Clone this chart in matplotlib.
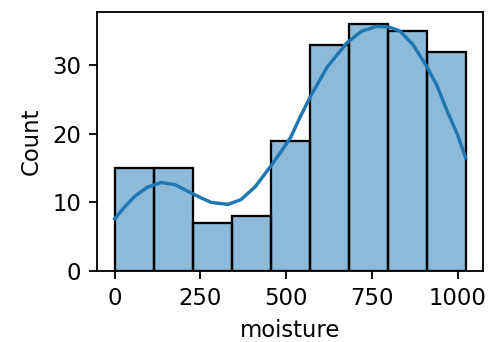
import numpy as np
from matplotlib import pyplot as plt

# histogram of moisture readings
bin_edges = np.linspace(0, 1023, 10)
counts = [15, 15, 7, 8, 19, 33, 36, 35, 32]

# kde curve (in count units)
kde_x = [0, 30, 59, 95, 136, 175, 214, 250, 281, 330, 368, 410, 455, 485, 513,
         540, 571, 620, 677, 720, 764, 800, 832, 870, 909, 940, 967, 1000, 1023]
kde_y = [7.6, 9.4, 10.9, 12.2, 12.9, 12.6, 11.6, 10.7, 10.0, 9.7, 10.4, 12.3, 15.3, 17.4, 19.5,
         22.4, 25.5, 29.8, 33.3, 35.0, 35.7, 35.6, 35.0, 33.0, 29.9, 27.0, 23.6, 19.8, 16.5]

dpi = 164
plt.figure(figsize=(496 / dpi, 342 / dpi), dpi=dpi)
ax = plt.axes([0.196, 0.208, 0.778, 0.757])

widths = np.diff(bin_edges)
ax.bar(bin_edges[:-1], counts, width=widths, align='edge',
       color='#1f77b4', alpha=0.5, edgecolor='none')
ax.bar(bin_edges[:-1], counts, width=widths, align='edge',
       fill=False, edgecolor='black', linewidth=1.0)
ax.plot(kde_x, kde_y, color='#1f77b4', linewidth=1.5)

ax.set_xlim(-51, 1074)
ax.set_ylim(0, 37.8)
ax.set_xticks([0, 250, 500, 750, 1000])
ax.set_yticks([0, 10, 20, 30])
ax.set_xlabel("moisture")
ax.set_ylabel("Count")

plt.savefig("out.png", dpi=dpi)
